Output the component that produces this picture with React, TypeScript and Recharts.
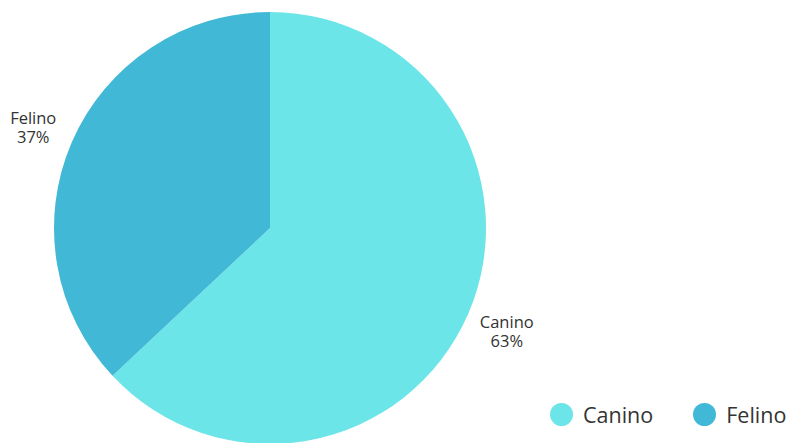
import { PieChart, Pie, Cell, Legend } from 'recharts';

const categories = ['Canino', 'Felino'];
const shares = [63, 37];
const colors = ['#6CE5E8', '#41B8D5'];

const data = categories.map((name, i) => ({ name, value: shares[i] }));

const RADIAN = Math.PI / 180;

function renderLabel(props: any) {
  const { cx, cy, midAngle, outerRadius, name, value } = props;
  const r = outerRadius + 42;
  const x = cx + r * Math.cos(-midAngle * RADIAN);
  const y = cy + r * Math.sin(-midAngle * RADIAN);
  return (
    <text x={x} y={y} textAnchor="middle" fill="#333333" fontSize={16.5} fontFamily="'Open Sans', sans-serif">
      <tspan x={x} dy={-2}>{name}</tspan>
      <tspan x={x} dy={19}>{value}%</tspan>
    </text>
  );
}

function LegendContent() {
  return (
    <div style={{ display: 'flex', alignItems: 'center', fontFamily: "'Open Sans', sans-serif", fontSize: 21.5, color: '#333333' }}>
      {categories.map((c, i) => (
        <div key={c} style={{ display: 'flex', alignItems: 'center', marginRight: i === 0 ? 40 : 0 }}>
          <span style={{ width: 23, height: 23, borderRadius: '50%', background: colors[i], display: 'inline-block', marginRight: 10 }} />
          <span>{c}</span>
        </div>
      ))}
    </div>
  );
}

export default function App() {
  return (
    <div style={{ position: 'absolute', left: 0, top: 0, width: 786, height: 443, background: '#ffffff', overflow: 'hidden' }}>
      <PieChart width={786} height={443} margin={{ top: 0, right: 0, bottom: 0, left: 0 }}>
        <Pie
          data={data}
          dataKey="value"
          nameKey="name"
          cx={270}
          cy={228}
          outerRadius={216}
          startAngle={90}
          endAngle={-270}
          stroke="none"
          labelLine={false}
          label={renderLabel}
          isAnimationActive={false}
        >
          {data.map((d, i) => (
            <Cell key={d.name} fill={colors[i]} />
          ))}
        </Pie>
        <Legend
          content={<LegendContent />}
          wrapperStyle={{ position: 'absolute', left: 550, top: 400, width: 'auto' }}
        />
      </PieChart>
    </div>
  );
}
